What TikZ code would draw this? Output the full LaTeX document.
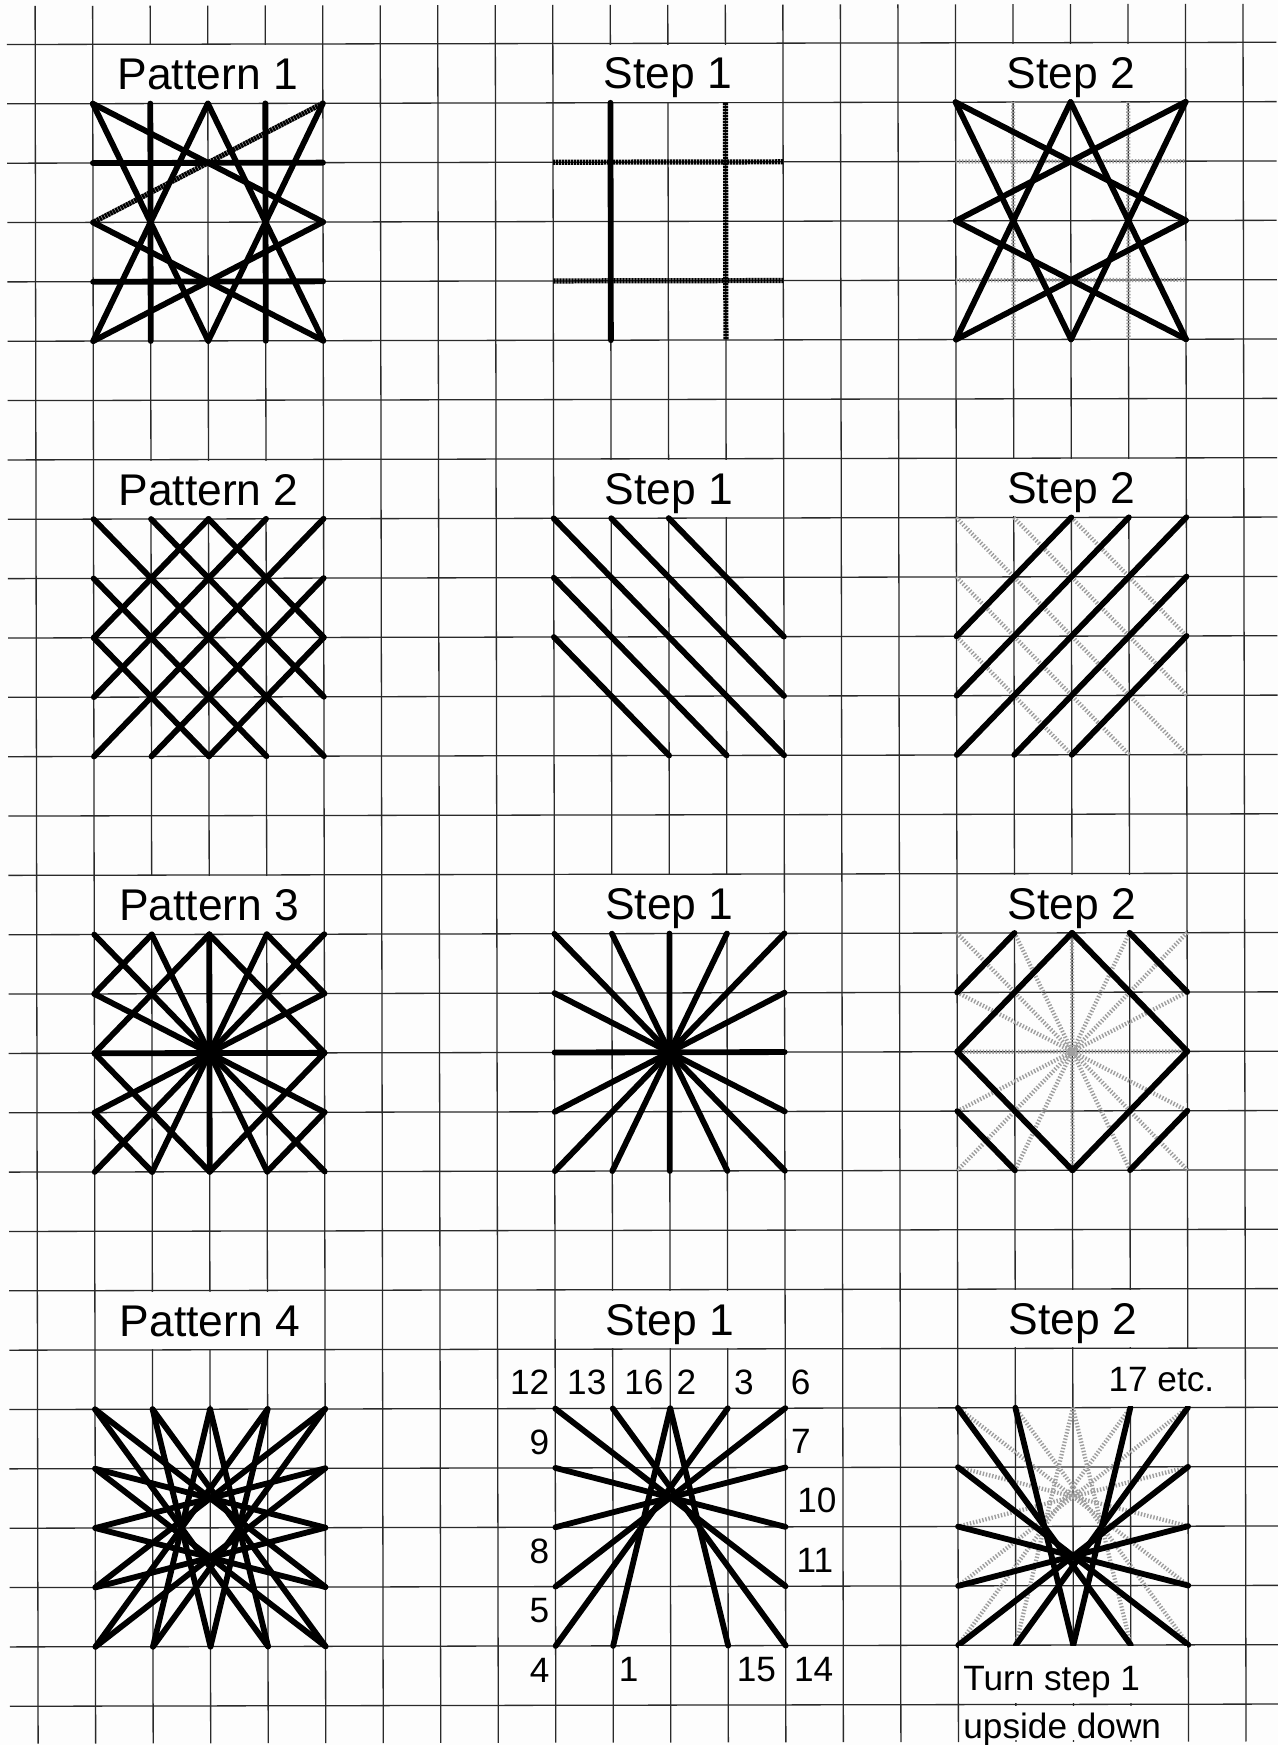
\documentclass[tikz,border=0pt]{standalone}
\usepackage{fontspec}
\setmainfont{Liberation Sans}
\definecolor{paper}{HTML}{FDFDFD}
\definecolor{rule}{HTML}{2A2A2A}
% line sets, local panel coordinates 0..4
\def\starset{{0,0}/{4,2},{0,0}/{2,4},{2,0}/{0,4},{2,0}/{4,4},{4,0}/{2,4},{0,2}/{4,4},{4,2}/{0,4}}
\def\fallset{{0,0}/{4,4},{1,0}/{4,3},{2,0}/{4,2},{0,1}/{3,4},{0,2}/{2,4}}
\def\riseset{{0,2}/{2,0},{0,3}/{3,0},{0,4}/{4,0},{1,4}/{4,1},{2,4}/{4,2}}
\def\spokeset{{0,2}/{4,2},{2,0}/{2,4},{1,0}/{3,4},{3,0}/{1,4},{0,0}/{4,4},{4,0}/{0,4},{0,1}/{4,3},{0,3}/{4,1}}
\def\frameset{{2,0}/{4,2},{4,2}/{2,4},{2,4}/{0,2},{0,2}/{2,0},{0,1}/{1,0},{3,0}/{4,1},{0,3}/{1,4},{3,4}/{4,3}}
\def\fanset{{1,4}/{2,0},{3,4}/{2,0},{1,0}/{4,4},{3,0}/{0,4},{0,3}/{4,0},{4,1}/{0,2},{0,1}/{4,2},{4,3}/{0,0}}
\begin{document}
\begin{tikzpicture}[
  x=28.76pt, y=-29.675pt,
  gridline/.style={draw=rule, line width=0.65pt},
  heavy/.style={draw=black, line width=2.9pt, line cap=round},
  chainline/.style={draw=black, line width=2.6pt, dash pattern=on 1.2pt off 0.3pt},
  faint/.style={draw=black!38, line width=2.1pt, dash pattern=on 0.7pt off 0.9pt},
  title/.style={fill=paper, inner sep=0pt, minimum width=113.9pt, minimum height=28.5pt, font=\fontsize{22.2}{24}\selectfont, text height=15.9pt, text depth=0pt},
  num/.style={inner sep=0pt, font=\fontsize{17.6}{20}\selectfont, text height=12.6pt, text depth=0pt},
  note/.style={inner sep=0pt, font=\fontsize{17.6}{20}\selectfont, text height=12.6pt, text depth=0pt, anchor=west}
]
\useasboundingbox (-0.6102,-0.7498) rectangle (21.608,28.652);
\fill[paper] (-0.6102,-0.7498) rectangle (21.608,28.652);
\begin{scope}[rotate around={0.1:(-0.6102,-0.7498)}]
% squared paper
\foreach \c in {0,...,21} \draw[gridline] (\c,-0.65) -- (\c,28.63);
\foreach \r in {0,...,28} \draw[gridline] (-0.49,\r) -- (21.58,\r);
% headings, they blank the inner lines of their row
\foreach \r/\n in {0/1,7/2,14/3,21/4} {
  \node[title] (pat\n) at (3,\r+0.5) {Pattern \n};
  \node[title] (first\n) at (11,\r+0.5) {Step 1};
  \node[title] (second\n) at (18,\r+0.5) {Step 2};
}
% pattern 1
\begin{scope}[shift={(1,1)}]
\foreach \p/\q in \starset \draw[heavy] (\p) -- (\q);
\draw[chainline] (4,0) -- (0,2);
\foreach \k in {1,3} {
  \draw[heavy] (\k,0) -- (\k,4);
  \draw[heavy] (0,\k) -- (4,\k);
}
\end{scope}
\begin{scope}[shift={(9,1)}]
\draw[heavy] (1,0) -- (1,4);
\draw[chainline] (3,0) -- (3,4);
\draw[chainline] (0,1) -- (4,1);
\draw[chainline] (0,3) -- (4,3);
\end{scope}
\begin{scope}[shift={(16,1)}]
\foreach \k in {1,3} {
  \draw[faint] (\k,0) -- (\k,4);
  \draw[faint] (0,\k) -- (4,\k);
}
\foreach \p/\q in \starset \draw[heavy] (\p) -- (\q);
\draw[heavy] (4,0) -- (0,2);
\end{scope}
% pattern 2
\begin{scope}[shift={(1,8)}]
\foreach \p/\q in \fallset \draw[heavy] (\p) -- (\q);
\foreach \p/\q in \riseset \draw[heavy] (\p) -- (\q);
\end{scope}
\begin{scope}[shift={(9,8)}]
\foreach \p/\q in \fallset \draw[heavy] (\p) -- (\q);
\end{scope}
\begin{scope}[shift={(16,8)}]
\foreach \p/\q in \fallset \draw[faint] (\p) -- (\q);
\foreach \p/\q in \riseset \draw[heavy] (\p) -- (\q);
\end{scope}
% pattern 3
\begin{scope}[shift={(1,15)}]
\foreach \p/\q in \spokeset \draw[heavy] (\p) -- (\q);
\foreach \p/\q in \frameset \draw[heavy] (\p) -- (\q);
\end{scope}
\begin{scope}[shift={(9,15)}]
\foreach \p/\q in \spokeset \draw[heavy] (\p) -- (\q);
\end{scope}
\begin{scope}[shift={(16,15)}]
\foreach \p/\q in \spokeset \draw[faint] (\p) -- (\q);
\foreach \p/\q in \frameset \draw[heavy] (\p) -- (\q);
\end{scope}
% pattern 4
\begin{scope}[shift={(1,23)}]
\foreach \p/\q in \fanset \draw[heavy] (\p) -- (\q);
\end{scope}
\begin{scope}[shift={(1,27)}, yscale=-1]
\foreach \p/\q in \fanset \draw[heavy] (\p) -- (\q);
\end{scope}
\begin{scope}[shift={(9,23)}]
\foreach \p/\q in \fanset \draw[heavy] (\p) -- (\q);
\end{scope}
\begin{scope}[shift={(16,23)}]
\foreach \p/\q in \fanset \draw[faint] (\p) -- (\q);
\end{scope}
\begin{scope}[shift={(16,27)}, yscale=-1]
\foreach \p/\q in \fanset \draw[heavy] (\p) -- (\q);
\end{scope}
% stitch order
\foreach \t/\x/\y in {12/8.557/22.556,13/9.55/22.556,16/10.544/22.556,2/11.283/22.556,3/12.28/22.556,6/13.27/22.556,
    9/8.724/23.557,7/13.27/23.55,10/13.547/24.55,8/8.72/25.39,11/13.51/25.56,5/8.72/26.39,
    4/8.72/27.395,1/10.27/27.39,15/12.49/27.39,14/13.486/27.39}
  \node[num] (st\t) at (\x,\y) {\t};
\node[fill=paper, inner sep=0pt, minimum width=56pt, minimum height=28.5pt] (blank) at (19.5,22.5) {};
\node[num] (more) at (19.54,22.52) {17 etc.};
\node[fill=paper, inner sep=0pt, minimum width=113.9pt, minimum height=28.5pt] (blanka) at (18,27.5) {};
\node[fill=paper, inner sep=0pt, minimum width=113.9pt, minimum height=17pt, anchor=north] (blankb) at (18,28.02) {};
\node[note] (turn) at (16.08,27.55) {Turn step 1};
\node[note] (down) at (16.08,28.36) {upside down};
\end{scope}
\end{tikzpicture}
\end{document}
